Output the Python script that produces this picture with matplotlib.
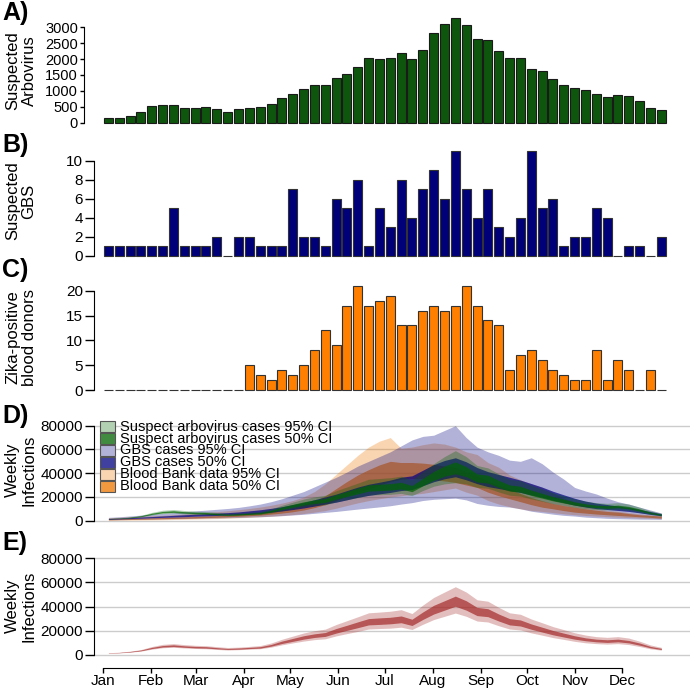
import numpy as np
import matplotlib.pyplot as plt
from matplotlib.patches import Rectangle

plt.rcParams['font.family'] = ['Liberation Sans', 'DejaVu Sans']

month_names = ['Jan', 'Feb', 'Mar', 'Apr', 'May', 'Jun',
               'Jul', 'Aug', 'Sep', 'Oct', 'Nov', 'Dec']
month_start = [0, 31, 60, 91, 121, 152, 182, 213, 244, 274, 305, 335]

# weekly counts (52 weeks)
arbovirus = [150, 150, 200, 330, 540, 560, 560, 460, 470, 490,
             420, 340, 440, 460, 500, 580, 790, 910, 1050, 1190,
             1200, 1400, 1540, 1740, 2050, 2010, 2050, 2200, 2000, 2300,
             2830, 3110, 3280, 3070, 2620, 2600, 2270, 2020, 2050, 1680,
             1620, 1360, 1170, 1090, 1030, 910, 800, 870, 830, 690,
             460, 390]
gbs = [1, 1, 1, 1, 1, 1, 5, 1, 1, 1,
       2, 0, 2, 2, 1, 1, 1, 7, 2, 2,
       1, 6, 5, 8, 1, 5, 3, 8, 4, 7,
       9, 6, 11, 7, 4, 7, 3, 2, 4, 11,
       5, 6, 1, 2, 2, 5, 4, 0, 1, 1,
       0, 2]
blood_donors = [0, 0, 0, 0, 0, 0, 0, 0, 0, 0,
                0, 0, 0, 5, 3, 2, 4, 3, 5, 8,
                12, 9, 17, 21, 17, 18, 19, 13, 13, 16,
                17, 16, 17, 21, 17, 14, 13, 4, 7, 8,
                6, 4, 3, 2, 2, 8, 2, 6, 4, 0,
                4, 0]

# weekly infection estimates, thousands
arbo_lo95 = [1.5, 1.7, 2.3, 3.2, 4.8, 6.0, 6.4, 5.8, 5.4, 5.2, 4.6, 4.1, 4.4, 4.8, 5.2, 6.5, 8.4, 10.0, 11.5, 12.7,
             13.4, 15.8, 17.7, 19.5, 21.5, 21.9, 22.2, 23.0, 21.1, 25.4, 29.0, 31.0, 32.0, 31.0, 28.1, 27.3, 24.2, 21.5, 20.7, 18.3,
             16.4, 14.4, 12.9, 11.3, 10.1, 9.4, 9.0, 9.4, 8.6, 7.0, 5.1, 4.0]
arbo_lo50 = [1.6, 1.9, 2.5, 3.5, 5.3, 6.6, 7.0, 6.4, 5.9, 5.7, 5.1, 4.6, 4.8, 5.3, 5.7, 7.3, 9.5, 11.3, 13.1, 14.5,
             15.4, 18.1, 20.4, 22.6, 24.9, 25.3, 25.8, 26.7, 24.4, 29.4, 34.0, 37.5, 39.5, 37.1, 32.6, 31.7, 28.1, 24.9, 24.0, 21.3,
             19.0, 16.7, 14.9, 13.1, 11.8, 10.9, 10.4, 10.9, 10.0, 8.1, 5.9, 4.5]
arbo_hi50 = [1.8, 2.1, 2.9, 4.1, 6.3, 7.8, 8.4, 7.6, 7.1, 6.9, 6.1, 5.4, 5.8, 6.3, 6.9, 8.7, 11.5, 13.7, 15.9, 17.5,
             18.6, 21.9, 24.6, 27.4, 30.1, 30.7, 31.2, 32.3, 29.6, 35.6, 41.5, 46.0, 49.5, 45.5, 39.4, 38.3, 33.9, 30.1, 29.0, 25.7,
             23.0, 20.3, 18.1, 15.9, 14.2, 13.1, 12.6, 13.1, 12.0, 9.9, 7.1, 5.5]
arbo_hi95 = [1.9, 2.3, 3.2, 4.5, 7.0, 8.8, 9.4, 8.6, 8.0, 7.7, 6.9, 6.2, 6.5, 7.1, 7.8, 9.9, 13.0, 15.6, 18.2, 20.1,
             21.4, 25.2, 28.4, 31.6, 34.9, 35.5, 36.2, 37.5, 34.3, 41.3, 48.0, 54.0, 59.0, 54.0, 46.5, 44.5, 39.4, 34.9, 33.7, 29.8,
             26.7, 23.5, 21.0, 18.4, 16.5, 15.2, 14.6, 15.2, 14.0, 11.4, 8.3, 6.3]

gbs_lo95 = [0.7, 0.8, 1.0, 1.2, 1.3, 1.5, 1.7, 1.8, 2.0, 2.2, 2.3, 2.5, 2.7, 3.0, 3.3, 3.7, 4.2, 4.8, 5.4, 6.2,
            7.0, 7.8, 8.8, 9.8, 10.7, 11.6, 12.6, 14.0, 15.2, 17.0, 18.0, 18.5, 19.0, 17.5, 14.5, 13.0, 12.0, 11.5, 10.0, 8.0,
            6.7, 5.5, 4.5, 3.9, 3.0, 2.5, 2.0, 1.7, 1.5, 1.3, 1.2, 1.1]
gbs_lo50 = [1.2, 1.5, 1.8, 2.1, 2.5, 2.8, 3.1, 3.4, 3.8, 4.1, 4.4, 4.8, 5.2, 5.7, 6.4, 7.2, 8.2, 9.4, 10.7, 12.3,
            14.0, 15.6, 17.6, 19.7, 21.3, 22.6, 23.8, 25.4, 26.2, 29.5, 32.8, 35.3, 37.0, 34.4, 31.2, 28.7, 27.1, 25.4, 23.8, 21.7,
            19.7, 17.2, 15.2, 13.1, 11.5, 10.2, 9.4, 8.6, 7.8, 6.6, 5.3, 4.1]
gbs_hi50 = [1.8, 2.1, 2.6, 3.1, 3.5, 4.0, 4.5, 5.0, 5.4, 5.9, 6.4, 6.8, 7.4, 8.3, 9.2, 10.4, 11.8, 13.6, 15.3, 17.7,
            20.0, 22.4, 25.4, 28.3, 30.7, 32.4, 34.2, 36.6, 37.8, 42.5, 47.2, 50.7, 53.0, 49.6, 44.8, 41.3, 38.9, 36.6, 34.2, 31.3,
            28.3, 24.8, 21.8, 18.9, 16.5, 14.8, 13.6, 12.4, 11.2, 9.4, 7.7, 5.9]
gbs_hi95 = [2.8, 3.3, 4.0, 4.7, 5.4, 6.1, 6.8, 7.5, 8.2, 8.9, 9.6, 10.3, 11.2, 12.5, 14.0, 16.0, 18.5, 21.5, 24.5, 28.5,
            32.5, 36.5, 41.0, 46.0, 50.0, 54.0, 58.0, 63.0, 68.0, 71.0, 72.0, 76.0, 80.0, 70.0, 62.0, 58.0, 55.0, 51.0, 50.0, 53.0,
            48.0, 41.0, 35.0, 28.0, 25.0, 22.5, 19.0, 16.0, 14.0, 11.4, 9.0, 6.5]

blood_lo95 = [0.3, 0.4, 0.5, 0.6, 0.7, 0.8, 1.0, 1.2, 1.4, 1.6, 1.8, 2.1, 2.4, 2.8, 3.3, 3.8, 4.4, 5.1, 6.0, 7.2,
              8.5, 10.5, 12.8, 15.0, 16.9, 18.5, 20.0, 21.0, 22.0, 23.0, 24.5, 26.0, 27.5, 24.0, 21.5, 17.0, 14.0, 11.8, 10.0, 8.6,
              7.8, 6.8, 5.8, 5.0, 4.4, 3.9, 3.4, 3.0, 2.6, 2.3, 2.0, 1.7]
blood_lo50 = [0.8, 1.0, 1.1, 1.3, 1.5, 1.7, 1.9, 2.1, 2.3, 2.6, 2.9, 3.3, 3.7, 4.2, 4.7, 5.5, 6.4, 7.5, 9.0, 11.0,
              13.5, 17.0, 21.0, 24.5, 27.0, 30.0, 33.0, 35.0, 35.5, 35.5, 34.5, 33.5, 32.2, 30.0, 28.0, 24.0, 21.0, 18.5, 16.0, 13.5,
              11.4, 10.0, 8.5, 7.2, 6.4, 5.6, 5.0, 4.4, 3.9, 3.3, 2.8, 2.2]
blood_hi50 = [1.4, 1.6, 1.8, 2.0, 2.3, 2.6, 2.9, 3.2, 3.5, 3.9, 4.3, 4.8, 5.4, 6.1, 6.8, 8.0, 9.4, 11.2, 13.5, 16.5,
              21.0, 27.0, 33.0, 38.5, 43.0, 47.0, 50.0, 49.0, 49.0, 48.5, 47.5, 46.0, 44.7, 41.0, 38.0, 33.0, 29.5, 26.7, 23.0, 19.5,
              16.9, 14.5, 12.8, 11.4, 10.0, 8.8, 7.8, 7.2, 6.0, 5.0, 4.5, 3.9]
blood_hi95 = [2.5, 2.9, 3.3, 3.7, 4.1, 4.5, 5.0, 5.6, 6.2, 6.9, 7.6, 8.4, 9.3, 10.3, 11.5, 13.0, 14.8, 17.0, 20.0, 24.5,
              31.0, 39.0, 47.0, 55.0, 62.0, 67.0, 70.0, 61.0, 62.0, 64.0, 65.5, 64.5, 62.0, 58.0, 55.8, 49.0, 45.0, 38.5, 34.5, 31.0,
              28.0, 23.5, 19.0, 15.6, 13.0, 10.5, 8.6, 8.0, 6.8, 5.8, 4.8, 4.0]

comb_lo95 = [1.5, 1.7, 2.3, 3.2, 4.8, 6.0, 6.4, 5.8, 5.4, 5.2, 4.6, 4.1, 4.4, 4.8, 5.2, 6.5, 8.4, 10.0, 11.5, 12.7,
             13.4, 15.8, 17.7, 19.5, 21.5, 21.9, 22.2, 23.0, 21.1, 25.4, 29.3, 32.0, 34.7, 32.0, 28.1, 27.3, 24.2, 21.5, 20.7, 18.3,
             16.4, 14.4, 12.9, 11.3, 10.1, 9.4, 9.0, 9.4, 8.6, 7.0, 5.1, 4.0]
comb_lo50 = [1.6, 1.9, 2.5, 3.5, 5.3, 6.6, 7.0, 6.4, 5.9, 5.7, 5.1, 4.6, 4.8, 5.3, 5.7, 7.3, 9.5, 11.3, 13.1, 14.5,
             15.4, 18.1, 20.4, 22.6, 24.9, 25.3, 25.8, 26.7, 24.4, 29.4, 33.9, 37.1, 40.3, 37.1, 32.6, 31.7, 28.1, 24.9, 24.0, 21.3,
             19.0, 16.7, 14.9, 13.1, 11.8, 10.9, 10.4, 10.9, 10.0, 8.1, 5.9, 4.5]
comb_hi50 = [1.8, 2.1, 2.9, 4.1, 6.3, 7.8, 8.4, 7.6, 7.1, 6.9, 6.1, 5.4, 5.8, 6.3, 6.9, 8.7, 11.5, 13.7, 15.9, 17.5,
             18.6, 21.9, 24.6, 27.4, 30.1, 30.7, 31.2, 32.3, 29.6, 35.6, 41.1, 44.9, 48.7, 44.9, 39.4, 38.3, 33.9, 30.1, 29.0, 25.7,
             23.0, 20.3, 18.1, 15.9, 14.2, 13.1, 12.6, 13.1, 12.0, 9.9, 7.1, 5.5]
comb_hi95 = [1.9, 2.3, 3.2, 4.5, 7.0, 8.8, 9.4, 8.6, 8.0, 7.7, 6.9, 6.2, 6.5, 7.1, 7.8, 9.9, 13.0, 15.6, 18.2, 20.1,
             21.4, 25.2, 28.4, 31.6, 34.9, 35.5, 36.2, 37.5, 34.3, 41.3, 47.6, 52.1, 56.5, 52.1, 45.7, 44.5, 39.4, 34.9, 33.7, 29.8,
             26.7, 23.5, 21.0, 18.4, 16.5, 15.2, 14.6, 15.2, 14.0, 11.4, 8.3, 6.3]

W, H = 693, 688
fig = plt.figure(figsize=(W / 100, H / 100), dpi=100)


def px_axes(left, top, right, bottom):
    return fig.add_axes([left / W, 1 - bottom / H, (right - left) / W, (bottom - top) / H])


def k(v):
    return np.array(v) * 1000


weeks = np.arange(52) * 7 + 3.5
xlim = (-5.8, 379)


def style(ax, ylim, yticks, offset=0, ticklen=6.5, size=11):
    ax.set_xlim(xlim)
    ax.set_ylim(ylim)
    ax.set_yticks(yticks)
    for s in ['top', 'right', 'bottom']:
        ax.spines[s].set_visible(False)
    ax.spines['left'].set_bounds(yticks[0], yticks[-1])
    ax.spines['left'].set_position(('outward', offset))
    ax.set_xticks([])
    ax.tick_params(axis='y', length=ticklen, width=1, pad=1.5, labelsize=size)
    ax.patch.set_visible(False)


# A) suspected arbovirus
axA = px_axes(94, 8, 690, 126)
axA.bar(weeks, arbovirus, width=5.8, color='#0e560e', edgecolor='#1a1a1a', linewidth=0.8)
style(axA, (-104, 3607), list(range(0, 3001, 500)), offset=7, ticklen=3, size=10.5)

# B) suspected GBS
axB = px_axes(94, 140, 690, 258)
axB.bar(weeks, gbs, width=5.8, color='#000078', edgecolor='#333333', linewidth=0.8)
style(axB, (-0.24, 12.18), [0, 2, 4, 6, 8, 10])

# C) Zika-positive blood donors
axC = px_axes(94, 280, 690, 392)
axC.bar(weeks, blood_donors, width=5.8, color='#ff7f00', edgecolor='#333333', linewidth=0.8)
style(axC, (-0.4, 22.15), [0, 5, 10, 15, 20])

# D) infections by data source
axD = px_axes(94, 415, 690, 524)
series = [
    ('Blood Bank data', blood_lo95, blood_lo50, blood_hi50, blood_hi95, '#ee7700'),
    ('GBS cases', gbs_lo95, gbs_lo50, gbs_hi50, gbs_hi95, '#000080'),
    ('Suspect arbovirus cases', arbo_lo95, arbo_lo50, arbo_hi50, arbo_hi95, '#006400'),
]
for name, lo95, lo50, hi50, hi95, col in series:
    axD.fill_between(weeks, k(lo95), k(hi95), color=col, alpha=0.3, linewidth=0)
    axD.fill_between(weeks, k(lo50), k(hi50), color=col, alpha=0.7, linewidth=0)
style(axD, (-2779, 89010), [0, 20000, 40000, 60000, 80000])
axD.grid(axis='y', color='#cccccc', linewidth=1)
axD.set_axisbelow(True)

legend_items = [
    ('Suspect arbovirus cases 95% CI', '#006400', 0.3),
    ('Suspect arbovirus cases 50% CI', '#006400', 0.75),
    ('GBS cases 95% CI', '#000080', 0.3),
    ('GBS cases 50% CI', '#000080', 0.75),
    ('Blood Bank data 95% CI', '#ee7700', 0.3),
    ('Blood Bank data 50% CI', '#ee7700', 0.75),
]
for i, (lab, col, a) in enumerate(legend_items):
    yc = 426.5 + 12 * i
    box = (100 / W, 1 - (yc + 5.5) / H)
    fig.patches.append(Rectangle(box, 15 / W, 11 / H, transform=fig.transFigure,
                                 facecolor='white', edgecolor='none', zorder=5))
    fig.patches.append(Rectangle(box, 15 / W, 11 / H, transform=fig.transFigure,
                                 facecolor=col, alpha=a, edgecolor='none', zorder=6))
    fig.patches.append(Rectangle(box, 15 / W, 11 / H, transform=fig.transFigure,
                                 facecolor='none', edgecolor='#555555', linewidth=0.8, zorder=7))
    fig.text(120 / W, 1 - yc / H, lab, fontsize=10.5, va='center', ha='left', zorder=8)

# E) combined estimate
axE = px_axes(94, 548, 690, 658)
axE.fill_between(weeks, k(comb_lo95), k(comb_hi95), color='#a52a2a', alpha=0.3, linewidth=0)
axE.fill_between(weeks, k(comb_lo50), k(comb_hi50), color='#a52a2a', alpha=0.7, linewidth=0)
style(axE, (-2482, 88520), [0, 20000, 40000, 60000, 80000])
axE.grid(axis='y', color='#cccccc', linewidth=1)
axE.set_axisbelow(True)
axE.spines['bottom'].set_visible(True)
axE.spines['bottom'].set_position(('outward', 7))
axE.spines['bottom'].set_bounds(month_start[0], month_start[-1])
axE.set_xticks(month_start)
axE.set_xticklabels(month_names)
axE.tick_params(axis='x', length=3.6, width=1, pad=1, labelsize=11)

# panel letters and y labels
for letter, top in [('A)', 1), ('B)', 133), ('C)', 258), ('D)', 404), ('E)', 531)]:
    fig.text(2 / W, 1 - top / H, letter, fontsize=18, fontweight='bold', va='top', ha='left')

for lab, yc in [('Suspected\nArbovirus', 71), ('Suspected\nGBS', 201),
                ('Zika-positive\nblood donors', 337), ('Weekly\nInfections', 470),
                ('Weekly\nInfections', 606)]:
    fig.text(21 / W, 1 - yc / H, lab, fontsize=12, rotation=90, ha='center', va='center',
             multialignment='center', linespacing=1.1)

fig.savefig('out.png', dpi=100)
